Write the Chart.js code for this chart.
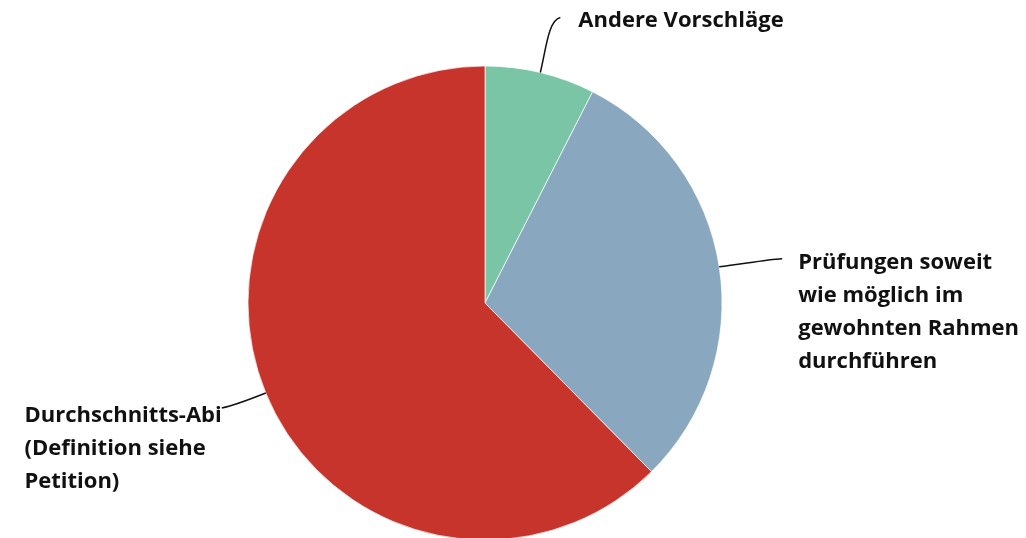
<!DOCTYPE html>
<html>
<head>
<meta charset="utf-8">
<script src="https://cdn.jsdelivr.net/npm/chart.js@4"></script>
<style>
  html, body { margin: 0; padding: 0; background: #fff; }
  #wrap { width: 1026px; height: 538px; }
</style>
</head>
<body>
<div id="wrap"><canvas id="myChart" width="1026" height="538"></canvas></div>
<script>
const labels = [
  ["Andere Vorschläge"],
  ["Prüfungen soweit", "wie möglich im", "gewohnten Rahmen", "durchführen"],
  ["Durchschnitts-Abi", "(Definition siehe", "Petition)"]
];
const values = [7.5, 30.1, 62.4];
const colors = ["#79c5a6", "#89a8c0", "#c6342c"];

const FONT = "bold 22px 'Open Sans', sans-serif";
const LINE_H = 33;

// leader line + label for each slice, starting at the slice's mid angle
const labelPlugin = {
  id: "sliceLabels",
  afterDatasetsDraw(chart) {
    const c = chart.ctx;
    const arcs = chart.getDatasetMeta(0).data;
    c.save();
    c.font = FONT;
    c.fillStyle = "#111";
    c.strokeStyle = "#111";
    c.lineWidth = 1.5;
    c.textBaseline = "middle";
    arcs.forEach((arc, i) => {
      const mid = (arc.startAngle + arc.endAngle) / 2;
      const x0 = arc.x + Math.cos(mid) * arc.outerRadius;
      const y0 = arc.y + Math.sin(mid) * arc.outerRadius;
      const lines = labels[i];
      c.beginPath();
      c.moveTo(x0, y0);
      let tx, ty;
      if (i === 0) {
        // curve up to the right
        c.bezierCurveTo(x0 + 6, y0 - 25, x0 + 8, y0 - 52, x0 + 20, y0 - 55);
        tx = x0 + 38; ty = y0 - 52;
      } else if (i === 1) {
        c.bezierCurveTo(x0 + 20, y0 - 2, x0 + 45, y0 - 7, x0 + 63, y0 - 8);
        tx = x0 + 79; ty = y0 - 4;
      } else {
        c.bezierCurveTo(x0 - 15, y0 + 6, x0 - 30, y0 + 12, x0 - 44, y0 + 15);
        // this label block is left aligned, its first line ends at the leader
        tx = x0 - 44 - c.measureText(lines[0]).width; ty = y0 + 23;
      }
      c.stroke();
      c.textAlign = "left";
      lines.forEach((t, k) => c.fillText(t, tx, ty + k * LINE_H));
    });
    c.restore();
  }
};

const ctx = document.getElementById("myChart");
new Chart(ctx, {
  type: "pie",
  data: {
    labels: labels.map(l => l.join(" ")),
    datasets: [{
      data: values,
      backgroundColor: colors,
      borderColor: "rgba(255,255,255,0.7)",
      borderWidth: 1
    }]
  },
  options: {
    responsive: false,
    animation: false,
    radius: 237,
    layout: { padding: { top: 68, bottom: 0, left: 0, right: 56 } },
    plugins: {
      legend: { display: false },
      tooltip: { enabled: false }
    }
  },
  plugins: [labelPlugin]
});
</script>
</body>
</html>
